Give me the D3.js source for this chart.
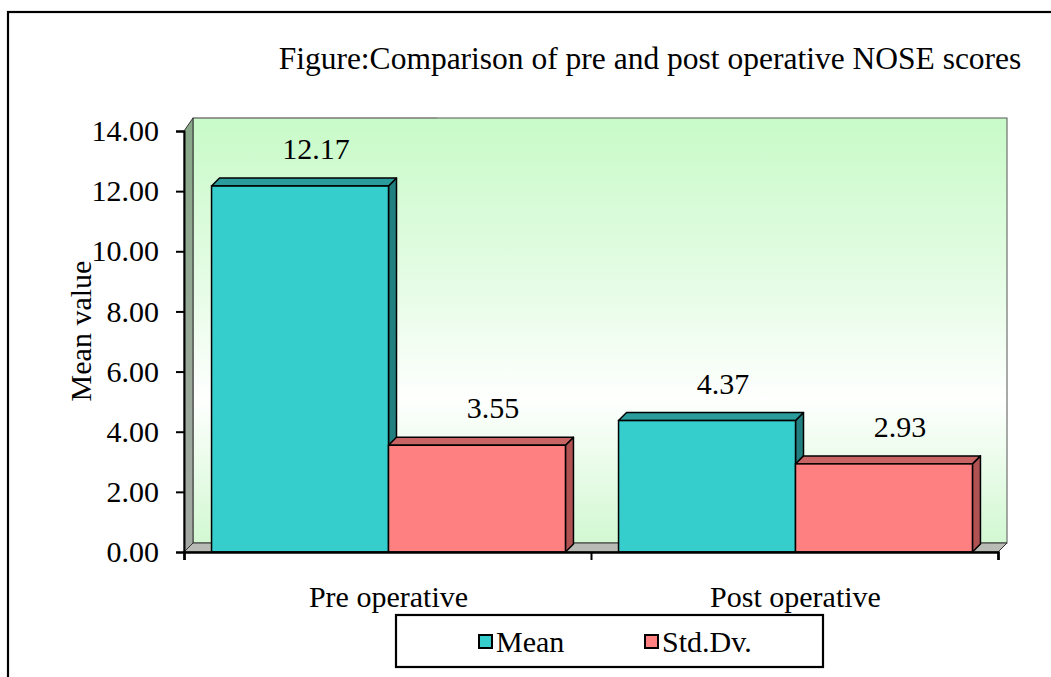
<!DOCTYPE html>
<html>
<head>
<meta charset="utf-8">
<script src="https://cdn.jsdelivr.net/npm/d3@7"></script>
<style>
  html, body { margin: 0; padding: 0; background: #fff; }
  svg { display: block; }
  text { font-family: "Liberation Serif", "Times New Roman", serif; fill: #000; }
</style>
</head>
<body>
<svg id="chart" width="1051" height="677" font-family="Liberation Serif, Times New Roman, serif"></svg>
<script>
const categories = ["Pre operative", "Post operative"];
const seriesNames = ["Mean", "Std.Dv."];
const meanValues = [12.17, 4.37];
const sdValues = [3.55, 2.93];
const yTicks = [0, 2, 4, 6, 8, 10, 12, 14];
const titleText = "Figure:Comparison of pre and post operative NOSE scores";
const yLabel = "Mean value";

const seriesValues = [meanValues, sdValues];
const colors = {
  "Mean":    { front: "#36CDCD", top: "#2A9C9C", side: "#227F7F" },
  "Std.Dv.": { front: "#FF8080", top: "#C86464", side: "#B05252" }
};

const SERIF = '"Liberation Serif", "Times New Roman", serif';
const svg = d3.select("#chart");
const fs = 30;
const titleFs = 31.5;
const DX = 9, DY = -9;

function styleText(sel, size) {
  return sel.style("font-family", SERIF).style("font-size", size + "px").style("fill", "#000");
}

// outer frame
svg.append("rect").attr("x", 8).attr("y", 12).attr("width", 1100).attr("height", 700)
  .attr("fill", "#fff").attr("stroke", "#000").attr("stroke-width", 2.2);

const x0 = 184, x1 = 998, yBase = 552, yTop = 131;
const y = d3.scaleLinear().domain([0, 14]).range([yBase, yTop]);
const xCat = d3.scaleBand().domain(categories).range([x0 + 1, x1 + 1]).padding(0);
const xSer = d3.scaleBand().domain(seriesNames).range([0, xCat.bandwidth()])
  .paddingInner(0).paddingOuter(0.15);

const defs = svg.append("defs");
const wallGrad = defs.append("linearGradient").attr("id", "wallGrad")
  .attr("x1", 0).attr("y1", 0).attr("x2", 0).attr("y2", 1);
wallGrad.append("stop").attr("offset", "0%").attr("stop-color", "#C8FAC8");
wallGrad.append("stop").attr("offset", "40%").attr("stop-color", "#E6FCE6");
wallGrad.append("stop").attr("offset", "66%").attr("stop-color", "#FEFFFE");
wallGrad.append("stop").attr("offset", "100%").attr("stop-color", "#D2F8D2");

const sideGrad = defs.append("linearGradient").attr("id", "sideGrad")
  .attr("x1", 0).attr("y1", 0).attr("x2", 0).attr("y2", 1);
sideGrad.append("stop").attr("offset", "0%").attr("stop-color", "#88A888");
sideGrad.append("stop").attr("offset", "100%").attr("stop-color", "#A4A8A4");

// back wall
const wallTop = y(14) + DY - 4;
svg.append("rect").attr("x", x0 + DX).attr("y", wallTop)
  .attr("width", x1 - x0).attr("height", (yBase + DY) - wallTop)
  .attr("fill", "url(#wallGrad)").attr("stroke", "#555").attr("stroke-width", 1);
svg.append("line").attr("x1", x0 + DX).attr("x2", x0 + DX + (x1 - x0) * 0.3)
  .attr("y1", wallTop).attr("y2", wallTop).attr("stroke", "#888").attr("stroke-width", 1);

// side wall
svg.append("path")
  .attr("d", `M${x0},${yBase} L${x0},${y(14)} L${x0 + DX},${wallTop} L${x0 + DX},${yBase + DY} Z`)
  .attr("fill", "url(#sideGrad)").attr("stroke", "#333").attr("stroke-width", 1);

// floor
svg.append("path")
  .attr("d", `M${x0},${yBase} L${x0 + DX},${yBase + DY} L${x1 + DX},${yBase + DY} L${x1},${yBase} Z`)
  .attr("fill", "#B8BCB4").attr("stroke", "#333").attr("stroke-width", 1);

// bars
const bars = [];
categories.forEach((c, ci) => {
  seriesNames.forEach((s, si) => {
    bars.push({ cat: c, series: s, value: seriesValues[si][ci] });
  });
});
const bd = 8; // bar depth
const barG = svg.append("g");
const labelG = svg.append("g");
bars.forEach(b => {
  const bx0 = xCat(b.cat) + xSer(b.series);
  const bx1 = bx0 + xSer.bandwidth();
  const yt = y(b.value);
  const col = colors[b.series];
  const g = barG.append("g");
  g.append("path")
    .attr("d", `M${bx1},${yt} L${bx1 + bd},${yt - bd} L${bx1 + bd},${yBase - bd} L${bx1},${yBase} Z`)
    .attr("fill", col.side).attr("stroke", "#000").attr("stroke-width", 1.5).attr("stroke-linejoin", "round");
  g.append("path")
    .attr("d", `M${bx0},${yt} L${bx0 + bd},${yt - bd} L${bx1 + bd},${yt - bd} L${bx1},${yt} Z`)
    .attr("fill", col.top).attr("stroke", "#000").attr("stroke-width", 1.5).attr("stroke-linejoin", "round");
  g.append("rect").attr("x", bx0).attr("y", yt).attr("width", bx1 - bx0).attr("height", yBase - yt)
    .attr("fill", col.front).attr("stroke", "#000").attr("stroke-width", 1.5);
  styleText(labelG.append("text")
    .attr("x", (bx0 + bx1) / 2 + 16)
    .attr("y", yt - 27)
    .attr("text-anchor", "middle"), fs)
    .text(b.value.toFixed(2));
});

// y axis
const yAxis = d3.axisLeft(y).tickValues(yTicks).tickSize(8).tickPadding(17)
  .tickFormat(d => d.toFixed(2));
const yg = svg.append("g").attr("transform", `translate(${x0},0)`).call(yAxis)
  .attr("font-family", null).attr("font-size", null);
yg.select(".domain").attr("stroke", "#000").attr("stroke-width", 2);
yg.selectAll(".tick line").attr("stroke", "#000").attr("stroke-width", 2);
styleText(yg.selectAll(".tick text"), fs);

// x axis
const xAxisScale = d3.scalePoint().domain(["a", "b", "c"]).range([x0, x1]);
const xg = svg.append("g").attr("transform", `translate(0,${yBase})`)
  .call(d3.axisBottom(xAxisScale).tickSize(8).tickFormat(""));
xg.select(".domain").attr("stroke", "#000").attr("stroke-width", 2.5);
xg.selectAll(".tick line").attr("stroke", "#000").attr("stroke-width", 2);

categories.forEach(c => {
  styleText(svg.append("text")
    .attr("x", xCat(c) + xCat.bandwidth() / 2)
    .attr("y", 607)
    .attr("text-anchor", "middle"), fs)
    .text(c);
});

// y label
styleText(svg.append("text")
  .attr("transform", "translate(91,331) rotate(-90)")
  .attr("text-anchor", "middle"), fs)
  .text(yLabel);

// title
styleText(svg.append("text")
  .attr("x", 650).attr("y", 69)
  .attr("text-anchor", "middle"), titleFs)
  .text(titleText);

// legend
const lg = svg.append("g");
lg.append("rect").attr("x", 396).attr("y", 615).attr("width", 427).attr("height", 52)
  .attr("fill", "#fff").attr("stroke", "#000").attr("stroke-width", 2.2);
const legendX = [479, 645];
seriesNames.forEach((s, i) => {
  lg.append("rect").attr("x", legendX[i]).attr("y", 635).attr("width", 13).attr("height", 13)
    .attr("fill", colors[s].front).attr("stroke", "#000").attr("stroke-width", 2);
  styleText(lg.append("text").attr("x", legendX[i] + 17).attr("y", 652), fs).text(s);
});
</script>
</body>
</html>
